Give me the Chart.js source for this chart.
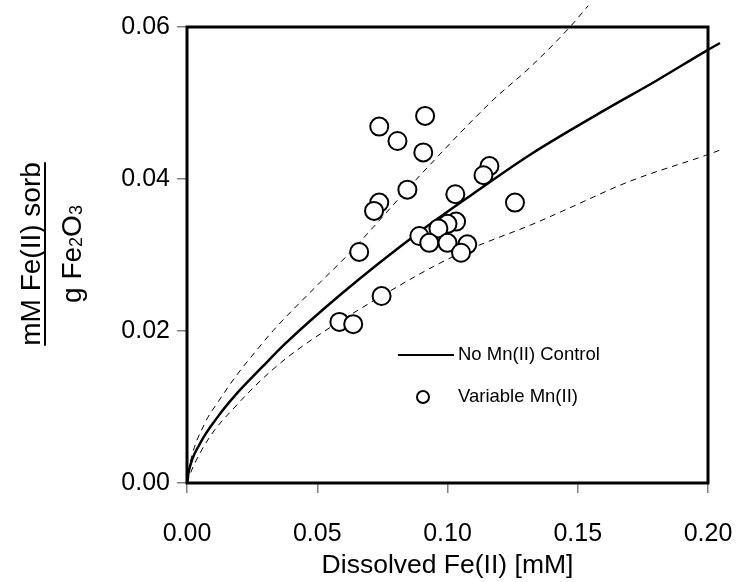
<!DOCTYPE html>
<html>
<head>
<meta charset="utf-8">
<script src="https://cdn.jsdelivr.net/npm/chart.js"></script>
<style>
  html, body { margin: 0; padding: 0; background: #fff; }
  #wrap { width: 742px; height: 582px; }
</style>
</head>
<body>
<div id="wrap"><canvas id="isotherm"></canvas></div>
<script>
// measured points, Variable Mn(II)
const sorbX = [0.0914, 0.0738, 0.0808, 0.0907, 0.1161, 0.1138, 0.0846, 0.1030, 0.0738, 0.0718, 0.1259, 0.1033,
  0.1000, 0.0965, 0.0892, 0.1076, 0.0930, 0.1000, 0.1052, 0.0661, 0.0747, 0.0585, 0.0638];
const sorbY = [0.0483, 0.0469, 0.0450, 0.0435, 0.0417, 0.0405, 0.0386, 0.0380, 0.0369, 0.0358, 0.0369, 0.0344,
  0.0341, 0.0335, 0.0325, 0.0314, 0.0316, 0.0316, 0.0303, 0.0304, 0.0246, 0.0212, 0.0209];

// No Mn(II) control fit
const fitX = [0, 0.0008, 0.005, 0.012, 0.0184, 0.0287, 0.0376, 0.06, 0.0887, 0.1100, 0.1317, 0.16, 0.18, 0.199, 0.2046];
const fitY = [0, 0.0017, 0.0052, 0.0088, 0.0115, 0.0152, 0.0183, 0.0251, 0.0329, 0.0381, 0.0432, 0.0490, 0.0529, 0.0568, 0.0579];

// dashed bounds
const upperX = [0, 0.0012, 0.0069, 0.012, 0.0191, 0.0268, 0.0332, 0.0511, 0.0614, 0.0906, 0.1175, 0.1317, 0.147, 0.154];
const upperY = [0, 0.0026, 0.0079, 0.0107, 0.0142, 0.0175, 0.0201, 0.0264, 0.0299, 0.0409, 0.0504, 0.0547, 0.0600, 0.0628];
const lowerX = [0, 0.0018, 0.0088, 0.0184, 0.0299, 0.0415, 0.0747, 0.1022, 0.1344, 0.1443, 0.17, 0.199, 0.2046];
const lowerY = [0, 0.0017, 0.0061, 0.0100, 0.0140, 0.0173, 0.0246, 0.0298, 0.0343, 0.0358, 0.0397, 0.0431, 0.0438];

const legendLabels = ['No Mn(II) Control', 'Variable Mn(II)'];
const xTitle = 'Dissolved Fe(II) [mM]';

const FONT = '"Liberation Sans", Arial, Helvetica, sans-serif';

const pts = (xs, ys) => xs.map((x, i) => ({ x: x, y: ys[i] }));

// frame, legend and the fraction-style y title
const extras = {
  id: 'extras',
  afterDatasetsDraw(chart) {
    const ctx = chart.ctx;
    const a = chart.chartArea;
    ctx.save();
    ctx.strokeStyle = '#000';
    ctx.lineWidth = 3;
    ctx.strokeRect(a.left, a.top, a.right - a.left, a.bottom - a.top);

    // legend
    ctx.font = '18.5px ' + FONT;
    ctx.fillStyle = '#000';
    ctx.textBaseline = 'middle';
    ctx.textAlign = 'left';
    ctx.lineWidth = 2;
    ctx.beginPath();
    ctx.moveTo(398, 355);
    ctx.lineTo(454, 355);
    ctx.stroke();
    ctx.fillText(legendLabels[0], 458, 355);
    ctx.beginPath();
    ctx.arc(423, 397, 6, 0, Math.PI * 2);
    ctx.stroke();
    ctx.fillText(legendLabels[1], 458, 397);
    ctx.restore();
  },
  afterDraw(chart) {
    const ctx = chart.ctx;
    ctx.save();
    ctx.fillStyle = '#000';
    ctx.strokeStyle = '#000';
    ctx.translate(0, 254);
    ctx.rotate(-Math.PI / 2);
    ctx.textBaseline = 'alphabetic';
    ctx.textAlign = 'left';
    ctx.font = '28px ' + FONT;
    const top = 'mM Fe(II) sorb';
    const w = ctx.measureText(top).width;
    ctx.fillText(top, -w / 2, 40);
    ctx.lineWidth = 2;
    ctx.beginPath();
    ctx.moveTo(-w / 2, 45);
    ctx.lineTo(w / 2, 45);
    ctx.stroke();

    // g Fe2O3 with small subscripts
    const parts = [['g Fe', 28, 0], ['2', 18, 1], ['O', 28, 0], ['3', 18, 1]];
    let total = 0;
    parts.forEach(p => { ctx.font = p[1] + 'px ' + FONT; total += ctx.measureText(p[0]).width; });
    let x = -total / 2;
    parts.forEach(p => {
      ctx.font = p[1] + 'px ' + FONT;
      ctx.fillText(p[0], x, 81 + p[2]);
      x += ctx.measureText(p[0]).width;
    });
    ctx.restore();
  }
};

new Chart(document.getElementById('isotherm'), {
  type: 'scatter',
  data: {
    datasets: [
      {
        label: legendLabels[1],
        data: pts(sorbX, sorbY),
        pointRadius: 9,
        pointBorderWidth: 2,
        pointBorderColor: '#000',
        pointBackgroundColor: '#fff',
        showLine: false
      },
      {
        label: legendLabels[0],
        data: pts(fitX, fitY),
        showLine: true,
        borderColor: '#000',
        borderWidth: 2.5,
        pointRadius: 0,
        cubicInterpolationMode: 'monotone',
        clip: false
      },
      {
        label: 'upper',
        data: pts(upperX, upperY),
        showLine: true,
        borderColor: '#000',
        borderWidth: 1,
        borderDash: [6, 5],
        pointRadius: 0,
        cubicInterpolationMode: 'monotone',
        clip: false
      },
      {
        label: 'lower',
        data: pts(lowerX, lowerY),
        showLine: true,
        borderColor: '#000',
        borderWidth: 1,
        borderDash: [6, 5],
        pointRadius: 0,
        cubicInterpolationMode: 'monotone',
        clip: false
      }
    ]
  },
  options: {
    responsive: true,
    maintainAspectRatio: false,
    animation: false,
    layout: { padding: { top: 27, right: 34, bottom: 0, left: 0 } },
    plugins: {
      legend: { display: false },
      tooltip: { enabled: false }
    },
    scales: {
      x: {
        type: 'linear',
        min: 0,
        max: 0.2,
        afterFit: (s) => { s.height = 99; s.paddingLeft = 0; s.paddingRight = 0; },
        border: { display: false },
        grid: { drawOnChartArea: false, drawTicks: true, tickLength: 10, color: '#808080', lineWidth: 1.5 },
        ticks: {
          stepSize: 0.05,
          padding: 26,
          color: '#000',
          font: { family: FONT, size: 25 },
          callback: (v) => v.toFixed(2)
        },
        title: {
          display: true,
          text: xTitle,
          color: '#000',
          font: { family: FONT, size: 26.5 },
          padding: { top: 0, bottom: 0 }
        }
      },
      y: {
        type: 'linear',
        min: 0,
        max: 0.06,
        afterFit: (s) => { s.width = 187; s.paddingTop = 0; s.paddingBottom = 0; },
        border: { display: false },
        grid: { drawOnChartArea: false, drawTicks: true, tickLength: 10, color: '#808080', lineWidth: 1.5 },
        ticks: {
          stepSize: 0.02,
          padding: 7,
          color: '#000',
          font: { family: FONT, size: 25 },
          callback: (v) => v.toFixed(2)
        }
      }
    }
  },
  plugins: [extras]
});
</script>
</body>
</html>
